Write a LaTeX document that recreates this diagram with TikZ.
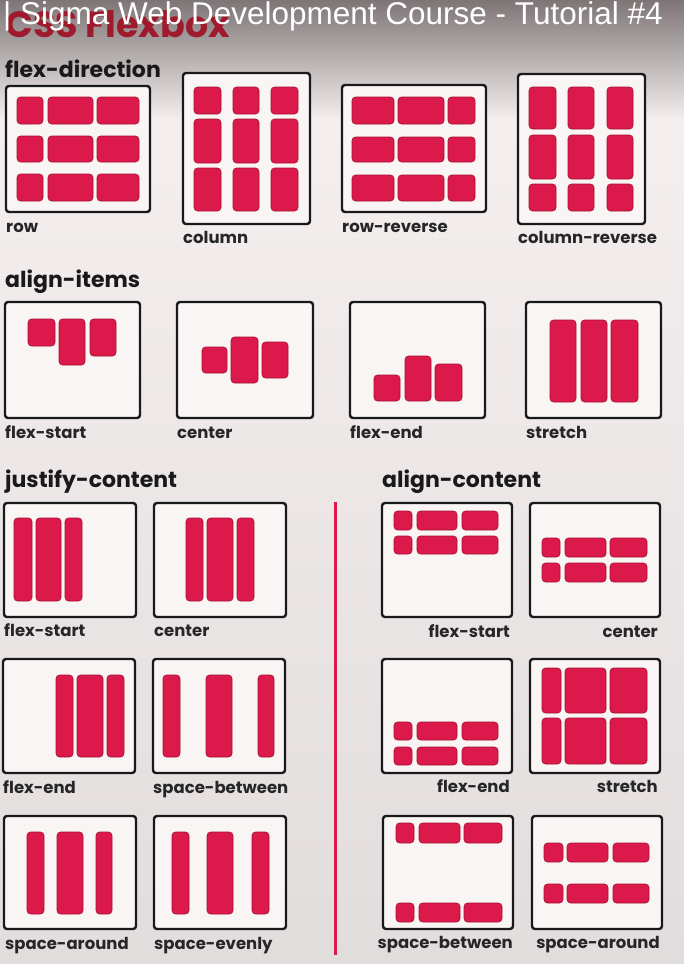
\documentclass[tikz,border=0pt]{standalone}
\usepackage{fontspec}
\setmainfont{Poppins}
\newfontfamily\titlefont{Liberation Sans}
\definecolor{flexred}{HTML}{DB1A4B}
\definecolor{flexedge}{HTML}{A3102F}
\definecolor{bgtop}{HTML}{7E7676}
\definecolor{bgmid}{HTML}{F4EEEE}
\definecolor{bgbot}{HTML}{E2DDDD}
\definecolor{boxfill}{HTML}{F9F5F5}
\definecolor{brandred}{HTML}{A01A2E}
\tikzset{
  item/.style={fill=flexred, draw=flexedge, line width=0.6pt, rounded corners=3.5pt},
  frame/.style={draw=black!90, fill=boxfill, line width=2.4pt, rounded corners=3pt},
  heading/.style={font=\fontsize{22}{24}\selectfont\bfseries, text=black!90, inner sep=0pt, anchor=base west},
  caption/.style={font=\fontsize{16.5}{18}\selectfont\bfseries, text=black!85, inner sep=0pt, anchor=base west},
  rcaption/.style={caption, anchor=base east},
}
\begin{document}
\begin{tikzpicture}[x=1pt,y=-1pt]
\useasboundingbox (0,0) rectangle (684,964);
\shade[top color=bgmid, bottom color=bgbot] (0,120) rectangle (684,964);
\shade[top color=bgtop, bottom color=bgmid] (0,0) rectangle (684,120);
\begin{scope}
\clip (0,0) rectangle (684,964);
\node[font=\fontsize{36.5}{38}\selectfont\bfseries, text=brandred, anchor=base west, inner sep=0pt] (brand) at (5,37) {CSS Flexbox};
\node[font=\titlefont\fontsize{31.5}{33}\selectfont, text=white, anchor=base west, inner sep=0pt] (title) at (3,24) {| Sigma Web Development Course - Tutorial \#4};
\end{scope}

% flex-direction
\node[heading] (hdir) at (5,77) {flex-direction};
\draw[frame] (6,86) rectangle (150,212);
\draw[item] (17,97) rectangle (43,124) (48,97) rectangle (93,124) (97,97) rectangle (139,124);
\draw[item] (17,136) rectangle (43,162) (48,136) rectangle (93,162) (97,136) rectangle (139,162);
\draw[item] (17,174) rectangle (43,201) (48,174) rectangle (93,201) (97,174) rectangle (139,201);
\node[caption] (row) at (6,232) {row};
\draw[frame] (183,73) rectangle (310,224);
\draw[item] (194,87) rectangle (221,114) (233,87) rectangle (259,114) (271,87) rectangle (298,114);
\draw[item] (194,119) rectangle (221,163) (233,119) rectangle (259,163) (271,119) rectangle (298,163);
\draw[item] (194,168) rectangle (221,211) (233,168) rectangle (259,211) (271,168) rectangle (298,211);
\node[caption] (column) at (183,243) {column};
\draw[frame] (342,85) rectangle (486,212);
\draw[item] (352,97) rectangle (394,124) (398,97) rectangle (444,124) (448,97) rectangle (475,124);
\draw[item] (352,137) rectangle (394,162) (398,137) rectangle (444,162) (448,137) rectangle (475,162);
\draw[item] (352,175) rectangle (394,201) (398,175) rectangle (444,201) (448,175) rectangle (475,201);
\node[caption] (rowrev) at (342,232) {row-reverse};
\draw[frame] (518,74) rectangle (645,224);
\draw[item] (529,87) rectangle (556,129) (568,87) rectangle (594,129) (607,87) rectangle (633,129);
\draw[item] (529,135) rectangle (556,179) (568,135) rectangle (594,179) (607,135) rectangle (633,179);
\draw[item] (529,184) rectangle (556,211) (568,184) rectangle (594,211) (607,184) rectangle (633,211);
\node[caption] (colrev) at (518,243) {column-reverse};

% align-items
\node[heading] (hitems) at (5,287) {align-items};
\draw[frame] (5,302) rectangle (140,418);
\draw[item] (28,319) rectangle (55,346) (59,319) rectangle (85,365) (90,319) rectangle (116,356);
\node[caption] (itstart) at (5,438) {flex-start};
\draw[frame] (177,302) rectangle (313,418);
\draw[item] (202,347) rectangle (227,373) (231,337) rectangle (258,383) (262,342) rectangle (288,378);
\node[caption] (itcenter) at (177,438) {center};
\draw[frame] (350,302) rectangle (485,418);
\draw[item] (374,375) rectangle (400,401) (405,356) rectangle (431,401) (435,364) rectangle (462,401);
\node[caption] (itend) at (350,438) {flex-end};
\draw[frame] (526,302) rectangle (661,418);
\draw[item] (550,320) rectangle (576,402) (581,320) rectangle (607,402) (611,320) rectangle (638,402);
\node[caption] (itstretch) at (526,438) {stretch};

% justify-content
\node[heading] (hjust) at (5,487) {justify-content};
\draw[frame] (4,503) rectangle (136,617);
\draw[item] (14,518) rectangle (32,601) (36,518) rectangle (61,601) (65,518) rectangle (82,601);
\node[caption] (jcstart) at (4,636) {flex-start};
\draw[frame] (154,503) rectangle (286,617);
\draw[item] (186,518) rectangle (203,601) (207,518) rectangle (233,601) (237,518) rectangle (254,601);
\node[caption] (jccenter) at (154,636) {center};
\draw[frame] (3,659) rectangle (135,773);
\draw[item] (56,675) rectangle (73,757) (77,675) rectangle (103,757) (107,675) rectangle (124,757);
\node[caption] (jcend) at (3,793) {flex-end};
\draw[frame] (153,659) rectangle (285,773);
\draw[item] (163,675) rectangle (180,757) (206,675) rectangle (232,757) (258,675) rectangle (274,757);
\node[caption] (jcbetween) at (153,793) {space-between};
\draw[frame] (4,816) rectangle (136,929);
\draw[item] (27,832) rectangle (44,914) (57,832) rectangle (83,914) (96,832) rectangle (112,914);
\node[caption] (jcaround) at (5,949) {space-around};
\draw[frame] (154,816) rectangle (286,929);
\draw[item] (172,832) rectangle (189,914) (207,832) rectangle (233,914) (252,832) rectangle (269,914);
\node[caption] (jcevenly) at (154,949) {space-evenly};

% divider
\coordinate (dtop) at (335,502);
\coordinate (dbot) at (335,955);
\draw[flexred, line width=3pt] (dtop) -- (dbot);

% align-content
\node[heading] (hcont) at (382,487) {align-content};
\draw[frame] (382,503) rectangle (512,617);
\draw[item] (394,511) rectangle (412,530) (417,511) rectangle (457,530) (462,511) rectangle (498,530);
\draw[item] (394,536) rectangle (412,554) (417,536) rectangle (457,554) (462,536) rectangle (498,554);
\node[rcaption] (acstart) at (510,637) {flex-start};
\draw[frame] (530,503) rectangle (660,617);
\draw[item] (542,538) rectangle (560,557) (565,538) rectangle (606,557) (610,538) rectangle (647,557);
\draw[item] (542,563) rectangle (560,582) (565,563) rectangle (606,582) (610,563) rectangle (647,582);
\node[rcaption] (accenter) at (658,637) {center};
\draw[frame] (382,659) rectangle (512,773);
\draw[item] (394,722) rectangle (412,740) (417,722) rectangle (457,740) (462,722) rectangle (498,740);
\draw[item] (394,747) rectangle (412,765) (417,747) rectangle (457,765) (462,747) rectangle (498,765);
\node[rcaption] (acend) at (510,792) {flex-end};
\draw[frame] (530,659) rectangle (660,773);
\draw[item] (542,668) rectangle (561,713) (565,668) rectangle (606,713) (610,668) rectangle (647,713);
\draw[item] (542,718) rectangle (561,764) (565,718) rectangle (606,764) (610,718) rectangle (647,764);
\node[rcaption] (acstretch) at (658,792) {stretch};
\draw[frame] (383,816) rectangle (513,929);
\draw[item] (396,823) rectangle (414,843) (419,823) rectangle (460,843) (464,823) rectangle (502,843);
\draw[item] (396,903) rectangle (414,922) (419,903) rectangle (460,922) (464,903) rectangle (502,922);
\node[rcaption] (acbetween) at (513,948) {space-between};
\draw[frame] (532,816) rectangle (662,929);
\draw[item] (544,843) rectangle (563,862) (567,843) rectangle (608,862) (613,843) rectangle (649,862);
\draw[item] (544,884) rectangle (563,903) (567,884) rectangle (608,903) (613,884) rectangle (649,903);
\node[rcaption] (acaround) at (660,948) {space-around};
\end{tikzpicture}
\end{document}
